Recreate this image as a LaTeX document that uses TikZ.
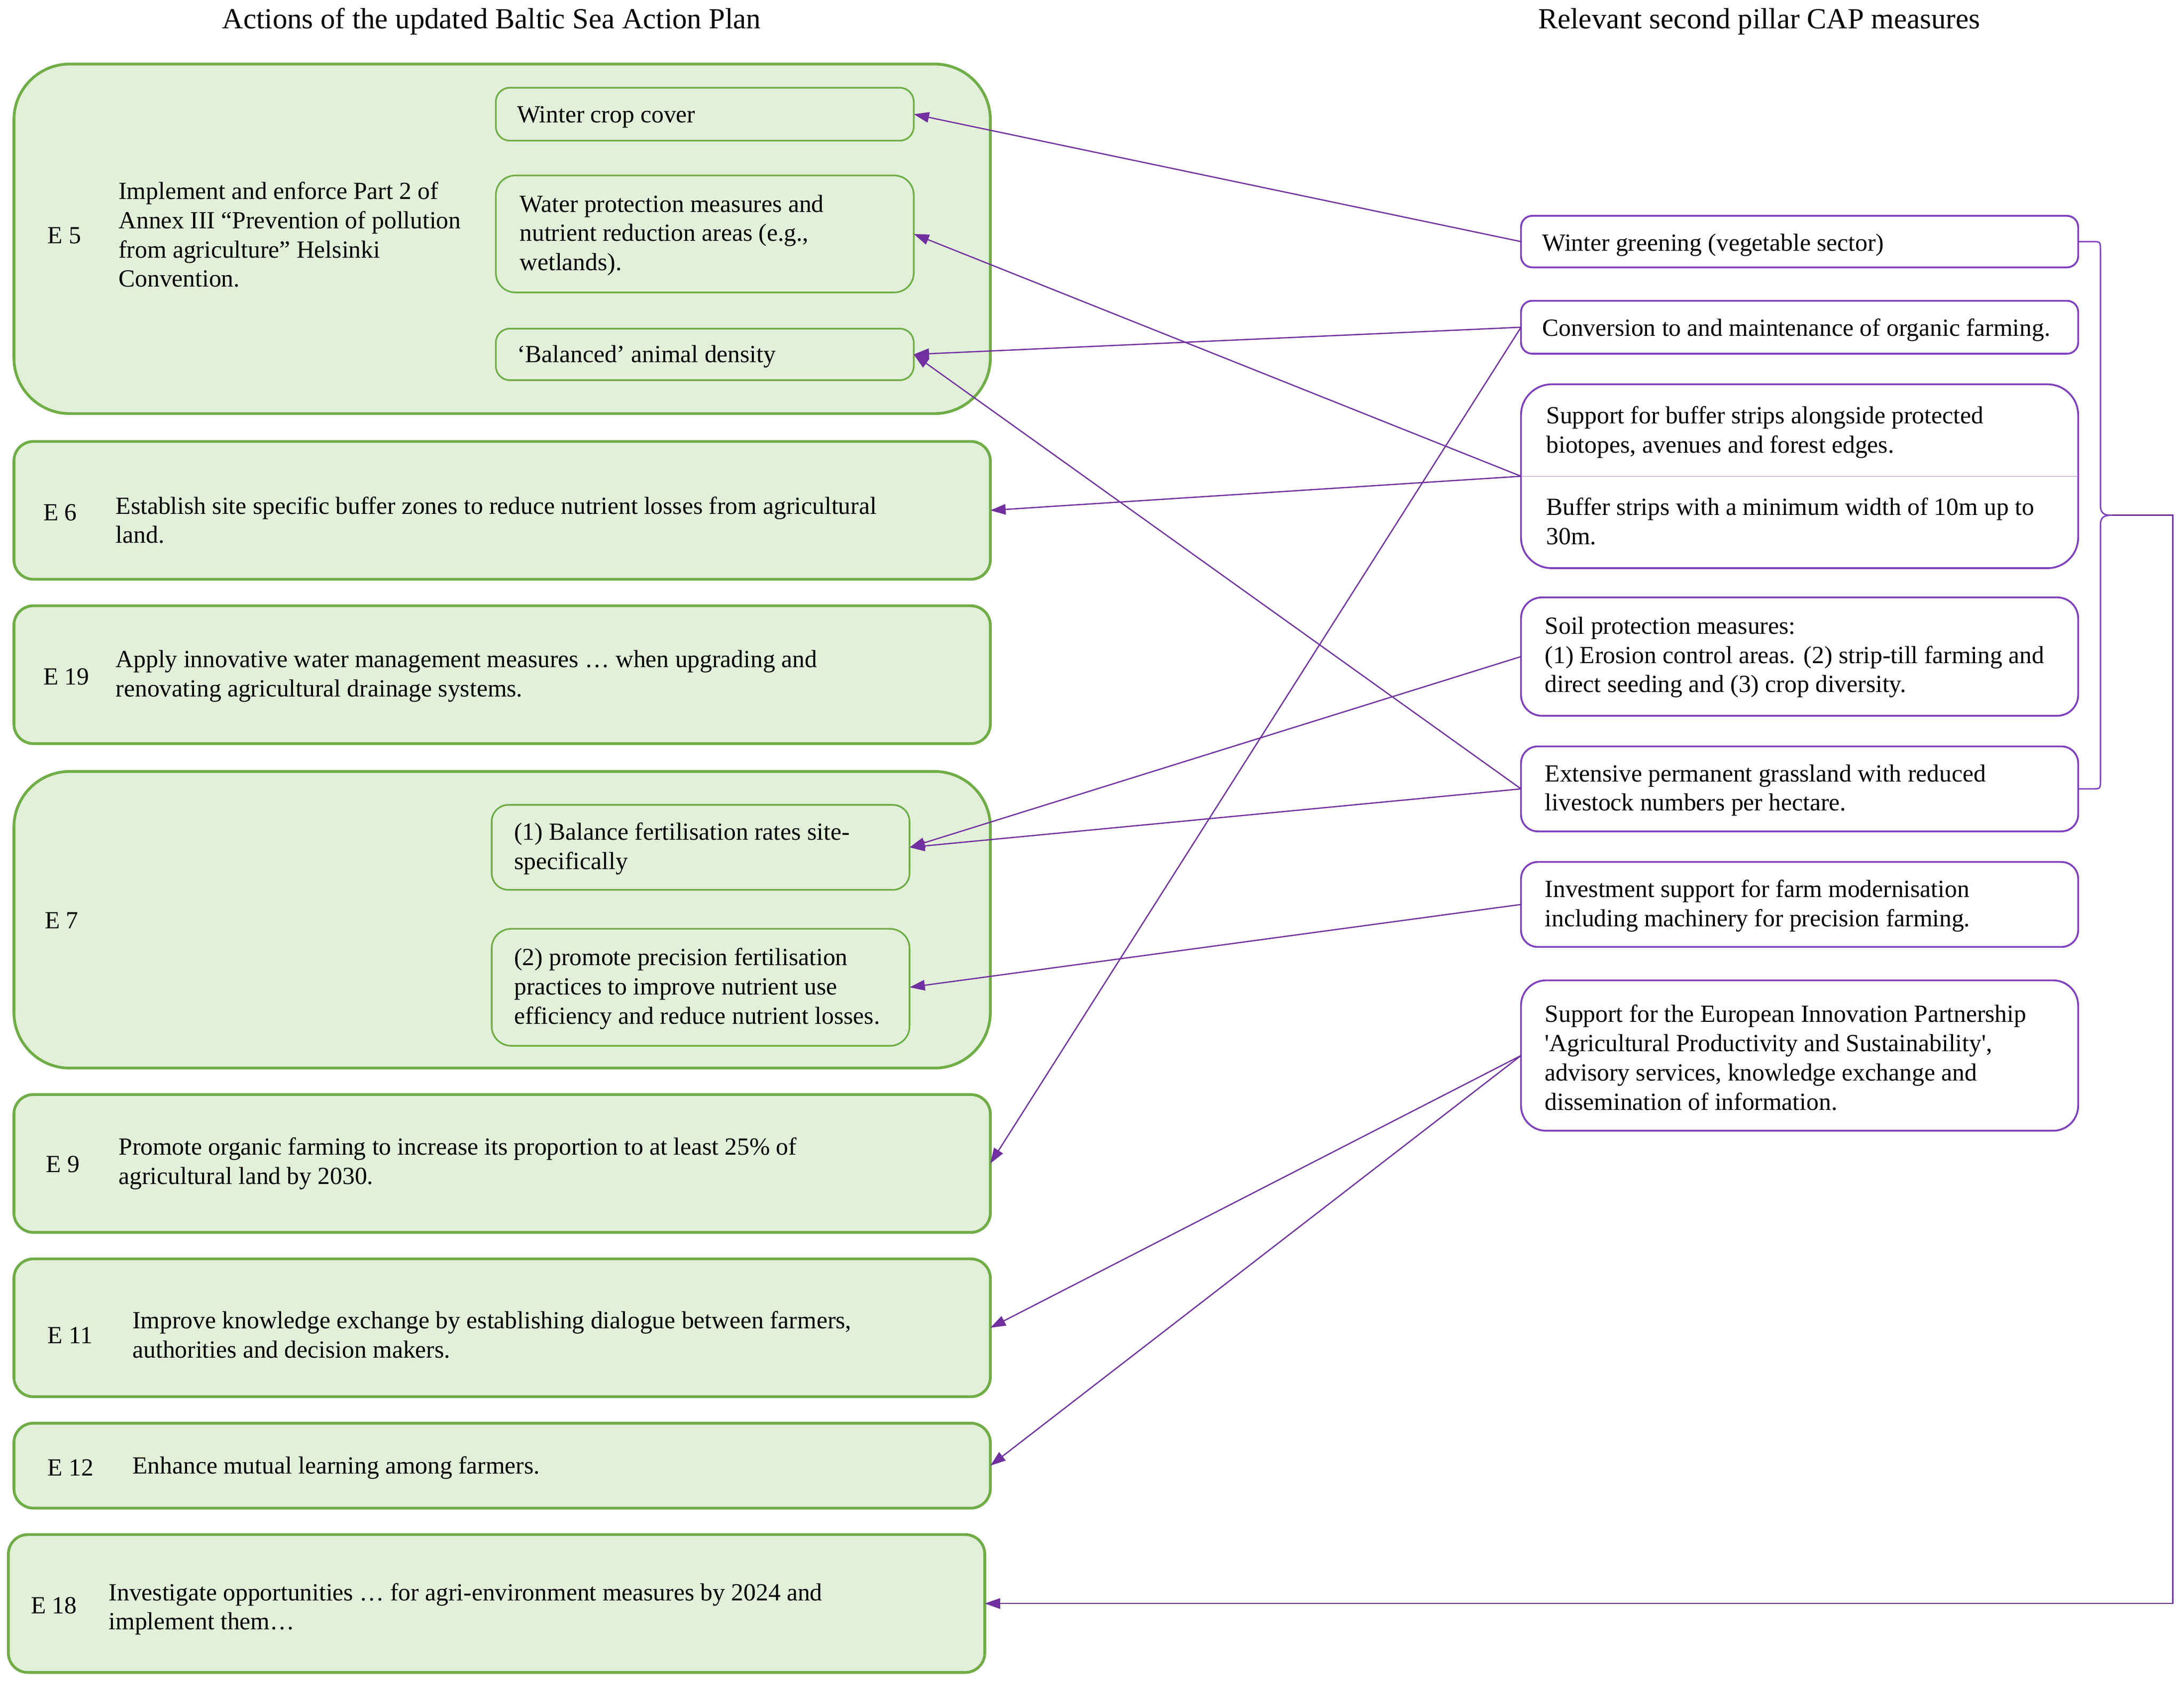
\documentclass[tikz,border=0pt]{standalone}
\usepackage{fontspec}
\setmainfont{Liberation Serif}[Ligatures=TeXOff]
\usetikzlibrary{arrows.meta}
\definecolor{gfill}{HTML}{E2EFD9}
\definecolor{gline}{HTML}{70AD47}
\definecolor{pline}{HTML}{7F3FBF}
\definecolor{parrow}{HTML}{7030A0}
\begin{document}
\begin{tikzpicture}[x=1pt,y=-1pt,
  obox/.style={draw=gline, fill=gfill, line width=2pt, rounded corners=14pt, inner sep=0pt, outer sep=0pt, anchor=north west, minimum width=701pt},
  ibox/.style={draw=gline, fill=gfill, line width=1.2pt, rounded corners=10pt, inner sep=0pt, outer sep=0pt, anchor=north west},
  pbox/.style={draw=pline, fill=white, line width=1.3pt, rounded corners=8pt, inner sep=0pt, outer sep=0pt, anchor=north west, minimum width=400pt},
  txt/.style={inner sep=0pt, anchor=west, align=left, yshift=-2pt, font=\fontsize{17.7}{21}\selectfont},
  ttl/.style={inner sep=0pt, yshift=-1.5pt, font=\fontsize{21}{25}\selectfont},
  conn/.style={draw=parrow, line width=0.9pt, -{Triangle[length=11pt,width=7.5pt]}},
  brace/.style={draw=pline, line width=1pt}]
\useasboundingbox (0,0) rectangle (1568,1210);
\fill[white] (0,0) rectangle (1568,1210);
% titles
\node[ttl] (t1) at (353,14) {Actions of the updated Baltic Sea Action Plan};
\node[ttl] (t2) at (1263,14) {Relevant second pillar CAP measures};
% left outer boxes
\node[obox, rounded corners=40pt, minimum height=251pt] (e5) at (10,46) {};
\node[obox, minimum height=99pt] (e6) at (10,317) {};
\node[obox, minimum height=99pt] (e19) at (10,435) {};
\node[obox, rounded corners=40pt, minimum height=213pt] (e7) at (10,554) {};
\node[obox, minimum height=99pt] (e9) at (10,786) {};
\node[obox, minimum height=99pt] (e11) at (10,904) {};
\node[obox, minimum height=61pt] (e12) at (10,1022) {};
\node[obox, minimum height=99pt] (e18) at (6,1102) {};
% inner boxes
\node[ibox, minimum width=300pt, minimum height=38pt] (wcc) at (356,63) {};
\node[ibox, rounded corners=14pt, minimum width=300pt, minimum height=84pt] (wpm) at (356,126) {};
\node[ibox, minimum width=300pt, minimum height=37pt] (bad) at (356,236) {};
\node[ibox, rounded corners=12pt, minimum width=300pt, minimum height=61pt] (f1) at (353,578) {};
\node[ibox, rounded corners=14pt, minimum width=300pt, minimum height=84pt] (f2) at (353,667) {};
% right boxes
\node[pbox, minimum height=37pt] (wg) at (1092,155) {};
\node[pbox, minimum height=38pt] (conv) at (1092,216) {};
\node[pbox, rounded corners=22pt, minimum height=132pt] (buf) at (1092,276) {};
\node[pbox, rounded corners=15pt, minimum height=85pt] (soil) at (1092,429) {};
\node[pbox, rounded corners=12pt, minimum height=61pt] (ext) at (1092,536) {};
\node[pbox, rounded corners=12pt, minimum height=61pt] (inv) at (1092,619) {};
\node[pbox, rounded corners=18pt, minimum height=108pt] (eip) at (1092,704) {};
\draw[pline!60, line width=0.5pt] (buf.west) -- (buf.east);
% labels
\node[txt] (l5) at (34,167) {E 5};
\node[txt] (l6) at (31,366) {E 6};
\node[txt] (l19) at (31,484) {E 19};
\node[txt] (l7) at (32,659) {E 7};
\node[txt] (l9) at (33,834) {E 9};
\node[txt] (l11) at (34,957) {E 11};
\node[txt] (l12) at (34,1052) {E 12};
\node[txt] (l18) at (22,1151) {E 18};
% texts left
\node[txt] (m5) at (85,166.5) {Implement and enforce Part 2 of\\Annex III “Prevention of pollution\\from agriculture” Helsinki\\Convention.};
\node[txt] (m6) at (83,371.5) {Establish site specific buffer zones to reduce nutrient losses from agricultural\\land.};
\node[txt] (m19) at (83,483.5) {Apply innovative water management measures … when upgrading and\\renovating agricultural drainage systems.};
\node[txt] (m9) at (85,833.5) {Promote organic farming to increase its proportion to at least 25\% of\\agricultural land by 2030.};
\node[txt] (m11) at (95,956.5) {Improve knowledge exchange by establishing dialogue between farmers,\\authorities and decision makers.};
\node[txt] (m12) at (95,1052) {Enhance mutual learning among farmers.};
\node[txt] (m18) at (78,1153.5) {Investigate opportunities … for agri-environment measures by 2024 and\\implement them…};
\node[txt] (twcc) at (371,82) {Winter crop cover};
\node[txt] (twpm) at (373,167) {Water protection measures and\\nutrient reduction areas (e.g.,\\wetlands).};
\node[txt] (tbad) at (371,254) {‘Balanced’ animal density};
\node[txt] (tf1) at (369,607.5) {(1) Balance fertilisation rates site-\\specifically};
\node[txt] (tf2) at (369,708) {(2) promote precision fertilisation\\practices to improve nutrient use\\efficiency and reduce nutrient losses.};
% texts right
\node[txt] (twg) at (1107,174) {Winter greening (vegetable sector)};
\node[txt] (tconv) at (1107,235) {Conversion to and maintenance of organic farming.};
\node[txt] (tbuf1) at (1110,308.5) {Support for buffer strips alongside protected\\biotopes, avenues and forest edges.};
\node[txt] (tbuf2) at (1110,372.5) {Buffer strips with a minimum width of 10m up to\\30m.};
\node[txt] (tsoil) at (1109,470) {Soil protection measures:\\(1) Erosion control areas. (2) strip-till farming and\\direct seeding and (3) crop diversity.};
\node[txt] (text) at (1109,565.5) {Extensive permanent grassland with reduced\\livestock numbers per hectare.};
\node[txt] (tinv) at (1109,648.5) {Investment support for farm modernisation\\including machinery for precision farming.};
\node[txt] (teip) at (1109,757.5) {Support for the European Innovation Partnership\\'Agricultural Productivity and Sustainability',\\advisory services, knowledge exchange and\\dissemination of information.};
% connectors
\draw[conn] (wg.west) -- (wcc.east);
\draw[conn] (conv.west) -- (bad.east);
\draw[conn] (conv.west) -- (e9.east);
\draw[conn] (buf.west) -- (wpm.east);
\draw[conn] (buf.west) -- (e6.east);
\draw[conn] (soil.west) -- (f1.east);
\draw[conn] (ext.west) -- (f1.east);
\draw[conn] (ext.west) -- (bad.east);
\draw[conn] (inv.west) -- (f2.east);
\draw[conn] (eip.west) -- (e11.east);
\draw[conn] (eip.west) -- (e12.east);
% brace
\coordinate (tip) at (1516,370);
\draw[brace] (wg.east) -- (1502,173.5) .. controls (1508,173.5) .. (1508,180) -- (1508,363) .. controls (1508,369) and (1511,370) .. (tip) .. controls (1511,370) and (1508,371) .. (1508,377) -- (1508,560) .. controls (1508,566.5) .. (1502,566.5) -- (ext.east);
\draw[conn] (tip) -- (1560,370) -- (1560,1151.5) -- (e18.east);
\end{tikzpicture}
\end{document}
